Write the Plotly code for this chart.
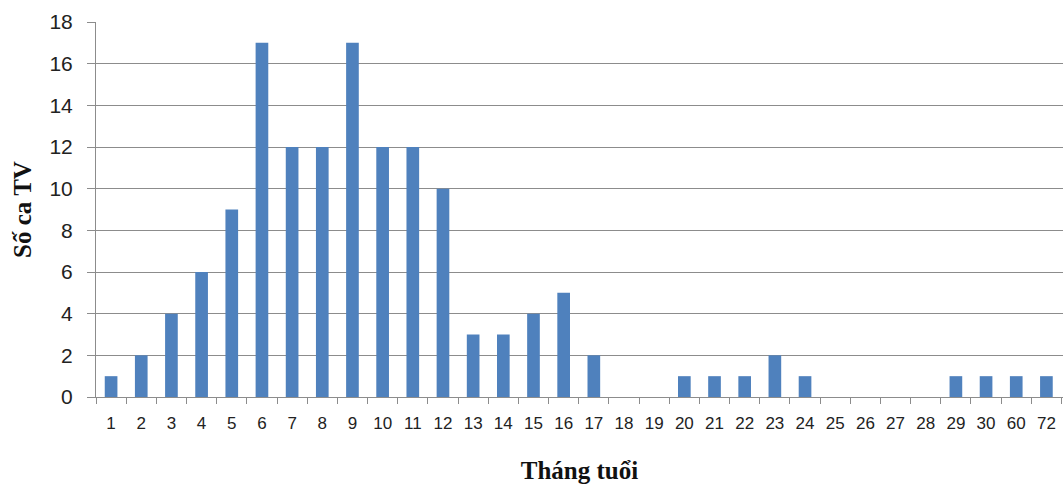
import plotly.graph_objects as go

categories = [str(i) for i in range(1, 31)] + ["60", "72"]
values = [1, 2, 4, 6, 9, 17, 12, 12, 17, 12, 12, 10, 3, 3, 4, 5, 2, 0, 0,
          1, 1, 1, 2, 1, 0, 0, 0, 0, 1, 1, 1, 1]
y_ticks = list(range(0, 19, 2))

fig = go.Figure(go.Bar(x=categories, y=values, marker_color="#4F81BD",
                       marker_line_width=0, width=0.42))

fig.update_layout(
    width=1063, height=484,
    margin=dict(l=96, r=0, t=22, b=87),
    plot_bgcolor="white", paper_bgcolor="white",
    showlegend=False,
    font=dict(family="Liberation Sans", color="#222222"),
)
fig.update_xaxes(
    type="category", range=[-0.5, 31.55],
    showline=True, linecolor="#8C8C8C", linewidth=1,
    ticks="outside", tickson="boundaries", ticklen=6, tickcolor="#8C8C8C",
    showgrid=False, tickfont=dict(size=17, family="Liberation Sans", color="#222"),
    ticklabelstandoff=11,
    title=dict(text="<b>Tháng tuổi</b>", font=dict(family="Liberation Serif", size=25, color="#111"),
               standoff=29),
)
fig.update_yaxes(
    range=[0, 18], tickvals=y_ticks,
    showline=True, linecolor="#8C8C8C", linewidth=1,
    ticks="outside", ticklen=8, tickcolor="#8C8C8C",
    showgrid=True, gridcolor="#8C8C8C", gridwidth=1, zeroline=False,
    tickfont=dict(size=21, family="Liberation Sans", color="#222"),
    ticklabelstandoff=10,
    title=dict(text="<b>Số ca TV</b>", font=dict(family="Liberation Serif", size=25, color="#111"),
               standoff=10),
)

fig.write_html("out.html")
